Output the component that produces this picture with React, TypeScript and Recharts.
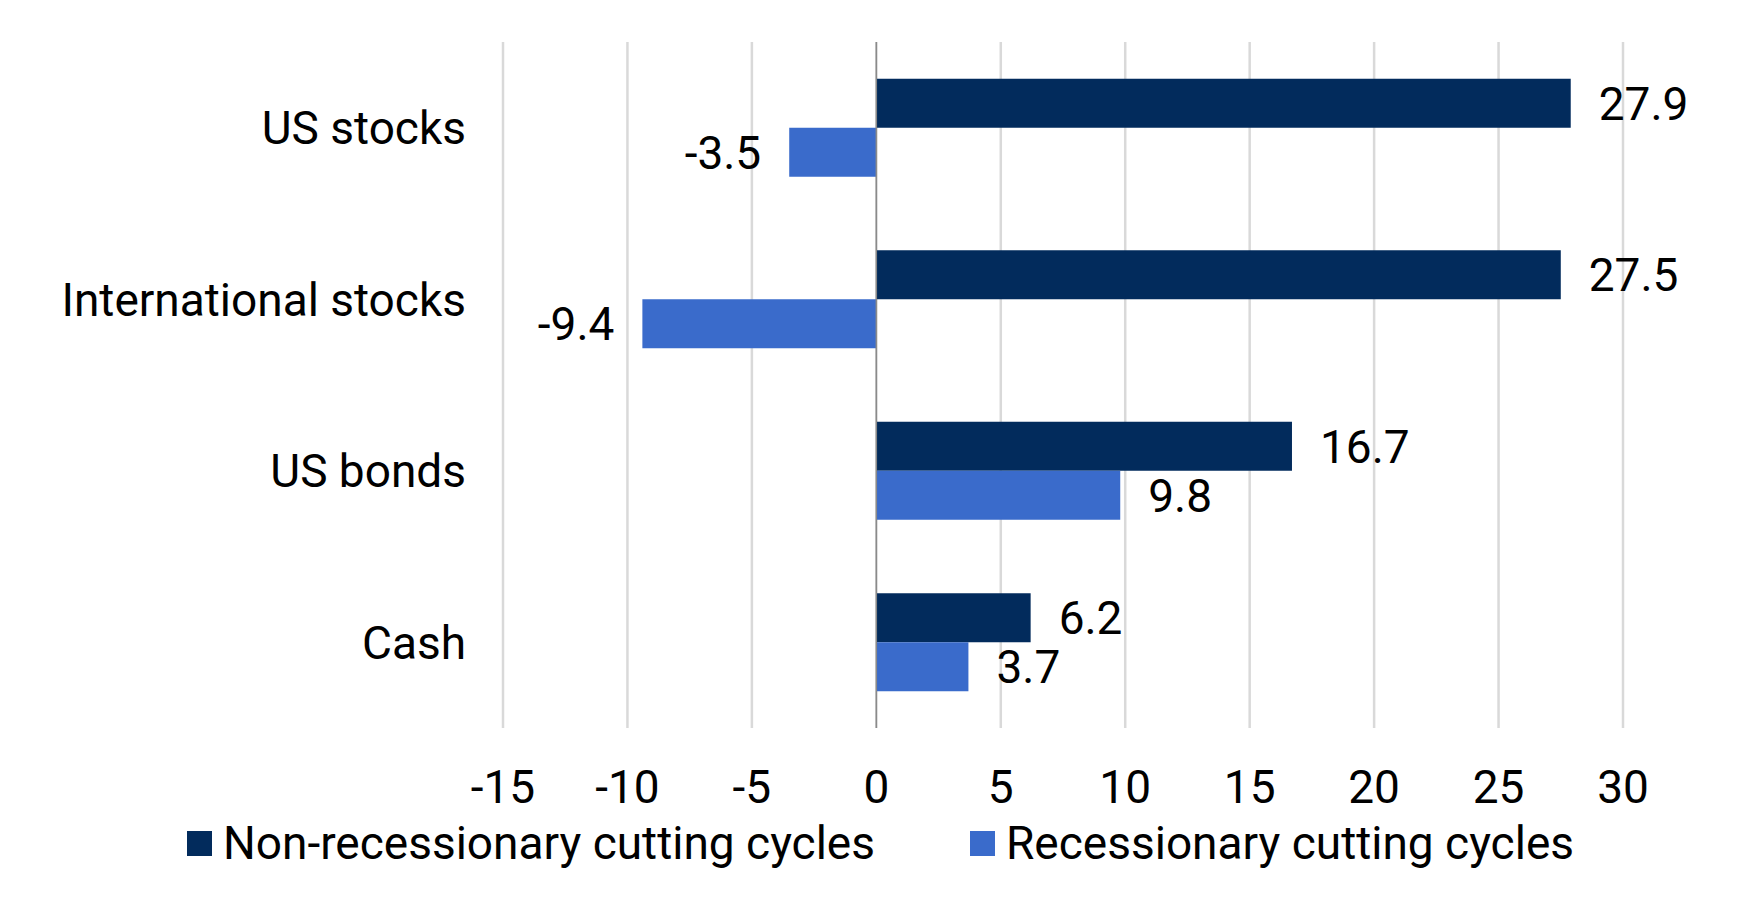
import React from "react";
import {
  BarChart,
  Bar,
  XAxis,
  YAxis,
  CartesianGrid,
  ReferenceLine,
  LabelList,
} from "recharts";

const categories = ["US stocks", "International stocks", "US bonds", "Cash"];
const nonRecessionary = [27.9, 27.5, 16.7, 6.2];
const recessionary = [-3.5, -9.4, 9.8, 3.7];
const xTicks = [-15, -10, -5, 0, 5, 10, 15, 20, 25, 30];
const seriesNames = ["Non-recessionary cutting cycles", "Recessionary cutting cycles"];
const seriesColors = ["#022b5c", "#3a6bcb"];

const data = categories.map((c, i) => ({
  name: c,
  nonRec: nonRecessionary[i],
  rec: recessionary[i],
}));

const FONT = "Roboto, 'Noto Sans', sans-serif";
const FS = 46;

const ValueLabel = (props: any) => {
  const { x, y, width, height, value } = props;
  const left = Math.min(x, x + width);
  const right = Math.max(x, x + width);
  const cy = y + height / 2;
  const pos = value >= 0;
  return (
    <text
      x={pos ? right + 28 : left - 28}
      y={cy}
      dy="0.355em"
      textAnchor={pos ? "start" : "end"}
      fontFamily={FONT}
      fontSize={FS}
      fill="#000"
    >
      {value}
    </text>
  );
};

export default function App() {
  return (
    <div style={{ position: "absolute", left: 0, top: 0, width: 1740, height: 914, background: "#fff" }}>
      <BarChart
        width={1740}
        height={914}
        data={data}
        layout="vertical"
        margin={{ top: 42, right: 117, bottom: 156, left: 0 }}
        barCategoryGap="21.5%"
        barGap={0}
      >
        <CartesianGrid horizontal={false} stroke="#d9d9d9" strokeWidth={2.5} />
        <XAxis
          type="number"
          domain={[-15, 30]}
          ticks={xTicks}
          height={30}
          axisLine={false}
          tickLine={false}
          tickSize={0}
          tickMargin={42}
          interval={0}
          tick={{ fontFamily: FONT, fontSize: FS, fill: "#000" }}
        />
        <YAxis
          type="category"
          dataKey="name"
          width={503}
          axisLine={false}
          tickLine={false}
          tickSize={0}
          tickMargin={37}
          interval={0}
          tick={{ fontFamily: FONT, fontSize: FS, fill: "#000" }}
        />
        <ReferenceLine x={0} stroke="#8a8a8a" strokeWidth={1.5} />
        <Bar dataKey="nonRec" name={seriesNames[0]} fill={seriesColors[0]} isAnimationActive={false}>
          <LabelList dataKey="nonRec" content={ValueLabel} />
        </Bar>
        <Bar dataKey="rec" name={seriesNames[1]} fill={seriesColors[1]} isAnimationActive={false}>
          <LabelList dataKey="rec" content={ValueLabel} />
        </Bar>
      </BarChart>
      <div
        style={{
          position: "absolute",
          left: 187,
          top: 818,
          height: 50,
          display: "flex",
          alignItems: "center",
          fontFamily: FONT,
          fontSize: FS,
          color: "#000",
        }}
      >
        {seriesNames.map((n, i) => (
          <div key={n} style={{ display: "flex", alignItems: "center", marginRight: 95 }}>
            <div style={{ width: 25, height: 25, background: seriesColors[i], marginRight: 11 }} />
            <span style={{ lineHeight: "50px", whiteSpace: "nowrap" }}>{n}</span>
          </div>
        ))}
      </div>
    </div>
  );
}
